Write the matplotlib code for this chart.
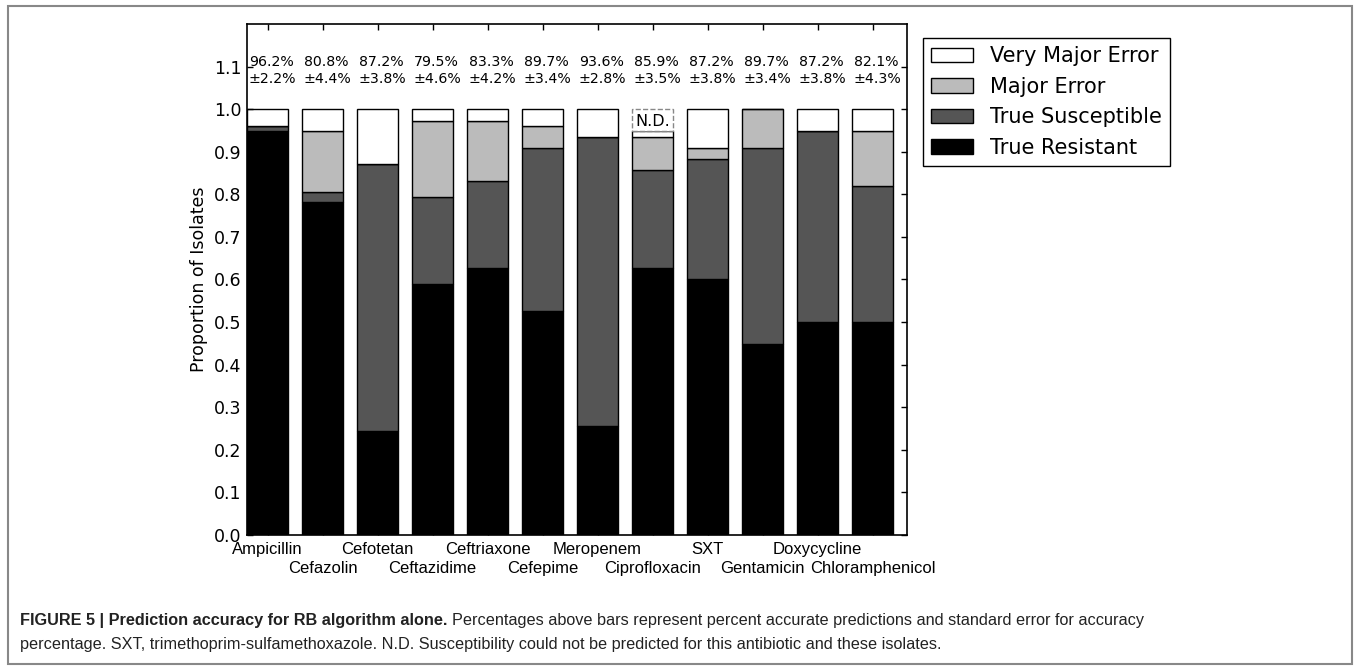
import numpy as np
import matplotlib
matplotlib.use('Agg')
from matplotlib import pyplot as plt
from matplotlib.patches import Rectangle

# Antibiotics and stacked proportions (bottom to top)
drugs = ['Ampicillin', 'Cefazolin', 'Cefotetan', 'Ceftazidime', 'Ceftriaxone',
         'Cefepime', 'Meropenem', 'Ciprofloxacin', 'SXT', 'Gentamicin',
         'Doxycycline', 'Chloramphenicol']
true_resistant = [0.949, 0.782, 0.244, 0.590, 0.628, 0.525, 0.256, 0.628, 0.602, 0.448, 0.500, 0.500]
true_susceptible = [0.012, 0.023, 0.628, 0.204, 0.203, 0.384, 0.678, 0.230, 0.282, 0.460, 0.448, 0.319]
major_error = [0.000, 0.143, 0.000, 0.179, 0.142, 0.052, 0.000, 0.077, 0.025, 0.092, 0.000, 0.129]
very_major_error = [0.039, 0.052, 0.128, 0.027, 0.027, 0.039, 0.066, 0.014, 0.091, 0.000, 0.052, 0.052]
not_determined = [0, 0, 0, 0, 0, 0, 0, 0.051, 0, 0, 0, 0]

accuracy = ['96.2%', '80.8%', '87.2%', '79.5%', '83.3%', '89.7%',
            '93.6%', '85.9%', '87.2%', '89.7%', '87.2%', '82.1%']
std_err = ['2.2%', '4.4%', '3.8%', '4.6%', '4.2%', '3.4%',
           '2.8%', '3.5%', '3.8%', '3.4%', '3.8%', '4.3%']

W, H = 1358, 668
fig = plt.figure(figsize=(W / 100, H / 100), dpi=100)
ax = fig.add_axes([247 / W, 1 - 535 / H, 660 / W, 511 / H])

x = np.arange(len(drugs))
width = 0.75
kw = dict(width=width, align='edge', edgecolor='black', linewidth=1.0)

b0 = np.zeros(len(drugs))
p_r = ax.bar(x, true_resistant, bottom=b0, color='black', **kw)
b1 = b0 + np.array(true_resistant)
p_s = ax.bar(x, true_susceptible, bottom=b1, color='#555555', **kw)
b2 = b1 + np.array(true_susceptible)
p_me = ax.bar(x, major_error, bottom=b2, color='#bbbbbb', **kw)
b3 = b2 + np.array(major_error)
p_vme = ax.bar(x, very_major_error, bottom=b3, color='white', **kw)
b4 = b3 + np.array(very_major_error)

# dashed box for the antibiotic that could not be predicted
for i, nd in enumerate(not_determined):
    if nd > 0:
        ax.bar(i, nd, bottom=b4[i], width=width, align='edge', color='white',
               edgecolor='#888888', linestyle='--', linewidth=1.0)
        ax.text(i + width / 2, b4[i] + nd / 2 - 0.003, 'N.D.', ha='center', va='center',
                fontsize=11.5)

# accuracy and standard error above each bar
for i in x:
    ax.text(i + 0.03, 1.091, accuracy[i] + '\n\u00b1' + std_err[i],
            ha='left', va='center', fontsize=10.2, linespacing=1.25)

ax.set_xlim(0, 12)
ax.set_ylim(0, 1.2)
ax.set_yticks(np.arange(0, 1.11, 0.1))
ax.set_yticklabels(['%.1f' % v for v in np.arange(0, 1.11, 0.1)])

# staggered antibiotic names: even ones on major ticks, odd ones on minor ticks one row lower
centers = x + width / 2
ax.set_xticks(centers[::2])
ax.set_xticklabels(drugs[::2], family='Liberation Sans', fontsize=12)
ax.set_xticks(centers[1::2], minor=True)
ax.set_xticklabels(drugs[1::2], minor=True, family='Liberation Sans', fontsize=12)

ax.tick_params(axis='both', which='both', direction='in', length=4, top=True, right=True, width=1.0)
ax.tick_params(axis='y', labelsize=12.5, pad=4)
ax.tick_params(axis='x', which='major', pad=5)
ax.tick_params(axis='x', which='minor', pad=19)
for s in ax.spines.values():
    s.set_linewidth(1.2)
ax.set_ylabel('Proportion of Isolates', fontsize=12.5, labelpad=4)

leg = fig.legend([p_vme, p_me, p_s, p_r],
                 ['Very Major Error', 'Major Error', 'True Susceptible', 'True Resistant'],
                 loc='upper left', bbox_to_anchor=(923 / W, 1 - 38 / H),
                 borderaxespad=0, fontsize=15, fancybox=False, framealpha=1,
                 edgecolor='black', labelspacing=0.5)
leg.get_frame().set_linewidth(1.0)

# figure caption
cap_kw = dict(family='Liberation Sans', fontsize=11.7, color='#222222', va='center')
bold = fig.text(20 / W, 1 - 620 / H, 'FIGURE 5 | Prediction accuracy for RB algorithm alone.',
                fontweight='bold', **cap_kw)
fig.canvas.draw()
bb = bold.get_window_extent()
fig.text(bb.x1 / W + 4 / W, 1 - 620 / H,
         'Percentages above bars represent percent accurate predictions and standard error for accuracy',
         **cap_kw)
fig.text(20 / W, 1 - 645 / H,
         'percentage. SXT, trimethoprim-sulfamethoxazole. N.D. Susceptibility could not be '
         'predicted for this antibiotic and these isolates.', **cap_kw)

fig.patches.append(Rectangle((8 / W, 4 / H), 1344 / W, 658 / H, transform=fig.transFigure,
                             fill=False, edgecolor='#888888', linewidth=1.5))

fig.savefig('out.png', dpi=100)
